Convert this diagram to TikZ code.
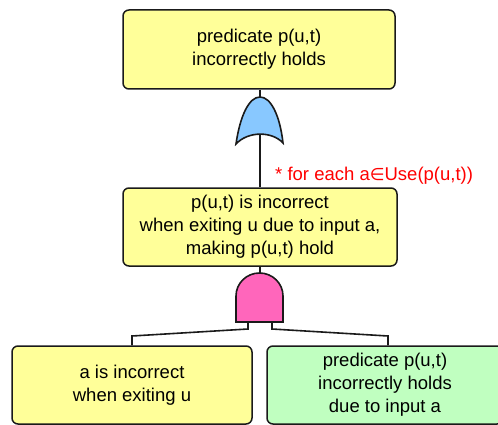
\documentclass[tikz,border=0pt]{standalone}
\usepackage{fontspec}
\setmainfont{Liberation Sans}
\newfontfamily\dejavu{DejaVu Sans}
\definecolor{boxyellow}{HTML}{FFFF99}
\definecolor{boxgreen}{HTML}{C0FFC0}
\definecolor{orblue}{HTML}{88C8FF}
\definecolor{andpink}{HTML}{FF66BB}
\definecolor{edge}{HTML}{1A1A1A}
\definecolor{notered}{HTML}{FF0000}
\begin{document}
\begin{tikzpicture}[x=1pt,y=-1pt,
  evbox/.style={draw=edge,line width=1.5pt,rounded corners=6pt,align=center,
    font=\fontsize{18.5}{23}\selectfont,inner sep=0pt},
  wire/.style={draw=edge,line width=1.6pt},
  gate/.style={draw=edge,line width=1.6pt}]
\useasboundingbox (0,0) rectangle (498,425);
% boxes
\node[evbox,fill=boxyellow,minimum width=272pt,minimum height=79pt] (top) at (259,49.5)
  {predicate p(u,t)\\incorrectly holds};
\node[evbox,fill=boxyellow,minimum width=274pt,minimum height=78pt] (mid) at (260,227)
  {p(u,t) is incorrect\\when exiting u due to input a,\\making p(u,t) hold};
\node[evbox,fill=boxyellow,minimum width=240pt,minimum height=78pt] (bl) at (132,385)
  {a is incorrect\\when exiting u};
\node[evbox,fill=boxgreen,minimum width=236pt,minimum height=78pt] (br) at (385,385)
  {predicate p(u,t)\\incorrectly holds\\due to input a};
% OR gate
\coordinate (ortop) at (260,97);
\coordinate (orbot) at (260,134);
\draw[wire] (top.south -| ortop) -- (ortop);
\draw[wire] (orbot) -- (mid.north -| orbot);
\draw[gate,fill=orblue] (236,144) .. controls (240,116) and (249,97) .. (ortop)
  .. controls (271,97) and (280,116) .. (283,143)
  .. controls (272,131) and (248,131) .. cycle;
\node[anchor=base west,text=notered,font=\fontsize{18.5}{22}\selectfont,inner sep=0pt] (note) at (275,180)
  {* for each a{\dejavu\fontsize{17}{20}\selectfont ∈}Use(p(u,t))};
% AND gate
\coordinate (andtop) at (260,273);
\coordinate (legl) at (248,329);
\coordinate (legr) at (272,329);
\coordinate (kl) at (132,336);
\coordinate (kr) at (388,336);
\draw[wire] (mid.south -| andtop) -- (andtop);
\draw[wire] (legl |- 0,322) -- (legl) -- (kl) -- (bl.north -| kl);
\draw[wire] (legr |- 0,322) -- (legr) -- (kr) -- (br.north -| kr);
\draw[gate,fill=andpink] (236,322) -- (236,296) arc[start angle=180,end angle=360,x radius=23.5,y radius=23] -- (283,322) -- cycle;
\end{tikzpicture}
\end{document}
